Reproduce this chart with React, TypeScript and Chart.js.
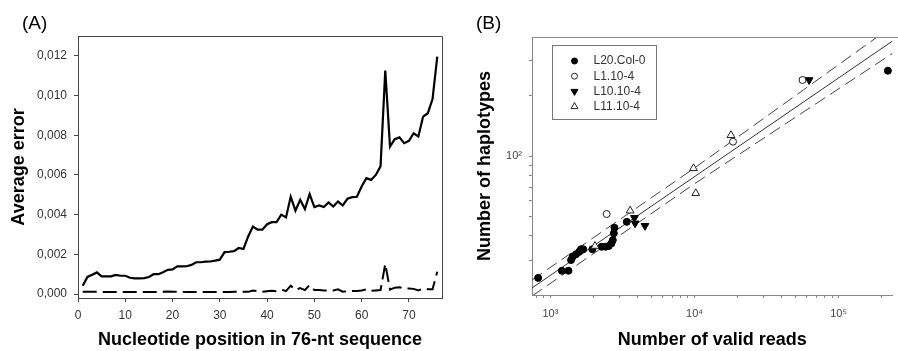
import React, { useEffect, useRef } from 'react';
import { Chart, registerables } from 'chart.js';

Chart.register(...registerables);

const FONT = "'Liberation Sans', Arial, Helvetica, sans-serif";

// ---------- Panel A data ----------
const nucleotidePositions = Array.from({ length: 76 }, (_, i) => i + 1);

const averageErrorSolid = [
  0.00042, 0.00086, 0.00097, 0.00109, 0.00089, 0.00089, 0.00089, 0.00096, 0.00092, 0.00092,
  0.00082, 0.00079, 0.00079, 0.0008, 0.00086, 0.001, 0.001, 0.0011, 0.00122, 0.00124,
  0.00139, 0.00139, 0.0014, 0.00147, 0.0016, 0.0016, 0.00163, 0.00164, 0.00168, 0.00173,
  0.00211, 0.00213, 0.00216, 0.00232, 0.00227, 0.0029, 0.0034, 0.00324, 0.00324, 0.00352,
  0.00362, 0.00362, 0.004, 0.00386, 0.0049, 0.0042, 0.00475, 0.00428, 0.00503, 0.00438,
  0.00446, 0.00438, 0.00461, 0.00441, 0.00466, 0.00446, 0.0048, 0.00488, 0.0049, 0.00542,
  0.00584, 0.00575, 0.006, 0.00643, 0.01126, 0.00743, 0.0078, 0.00789, 0.0076, 0.00772,
  0.0081, 0.00794, 0.00894, 0.00911, 0.00982, 0.01196,
];

const averageErrorDashed = [
  0.00012, 0.00012, 0.00012, 0.00012, 0.0001, 0.0001, 0.0001, 0.0001, 0.0001, 0.0001,
  0.0001, 0.0001, 0.0001, 0.0001, 0.0001, 0.0001, 0.0001, 0.00011, 0.00013, 0.00012,
  0.00011, 0.00011, 0.0001, 0.0001, 0.0001, 0.0001, 0.0001, 0.0001, 0.0001, 0.0001,
  0.0001, 0.0001, 0.00011, 0.00011, 0.00012, 0.00011, 0.00018, 0.00015, 0.00012, 0.00014,
  0.00016, 0.00014, 0.00022, 0.00015, 0.00042, 0.0002, 0.0003, 0.0002, 0.00045, 0.0002,
  0.0002, 0.00018, 0.00018, 0.00018, 0.00024, 0.00012, 0.00014, 0.00015, 0.00015, 0.00018,
  0.00024, 0.00016, 0.00018, 0.0002, 0.00152, 0.00022, 0.00032, 0.00034, 0.00028, 0.00028,
  0.00026, 0.00018, 0.00028, 0.00024, 0.00024, 0.00112,
];

const xTicksA = [0, 10, 20, 30, 40, 50, 60, 70];
const yTicksA = [0, 0.002, 0.004, 0.006, 0.008, 0.01, 0.012];

// ---------- Panel B data ----------
const seriesLabels = ['L20.Col-0', 'L1.10-4', 'L10.10-4', 'L11.10-4'];

const col0Reads = [822, 1200, 1334, 1391, 1428, 1506, 1585, 1629, 1690, 1955, 2265, 2415, 2541, 2653, 2710, 2754, 2781, 3389, 219800];
const col0Haplotypes = [24.6, 26.7, 26.7, 30.2, 31.4, 32.3, 33.2, 34.2, 34.2, 34.2, 35.2, 35.2, 35.5, 36.6, 38, 41.1, 43.8, 46.9, 267];

const l1Reads = [2455, 18500, 56200];
const l1Haplotypes = [51.3, 118, 240];

const l10Reads = [3830, 3870, 4530, 62400];
const l10Haplotypes = [49.1, 46.1, 44.8, 240];

const l11Reads = [2040, 3574, 9840, 10200, 17900];
const l11Haplotypes = [35.5, 53.3, 86.8, 65.1, 127];

const fitReads = [745, 236600];
const fitHaplotypes = [21.9, 375.8];
const bandReads = [745, 10000, 236600];
const upperBandHaplotypes = [24.0, 87.1, 446.7];
const lowerBandHaplotypes = [19.95, 72.7, 326.2];

const xTicksB = [
  800, 900, 1000, 2000, 3000, 4000, 5000, 6000, 7000, 8000, 9000,
  10000, 20000, 30000, 40000, 50000, 60000, 70000, 80000, 90000, 100000, 200000,
];
const xTickLabelsB: Record<number, string> = { 1000: '10³', 10000: '10⁴', 100000: '10⁵' };
const yTicksB = [30, 40, 50, 60, 70, 80, 90, 100, 200, 300];
const yTickLabelsB: Record<number, string> = { 100: '10²' };

const zip = (xs: number[], ys: number[]) => xs.map((x, i) => ({ x, y: ys[i] }));

function drawMarker(ctx: CanvasRenderingContext2D, style: string, x: number, y: number, r: number, rotation: number, fill: string, stroke: string) {
  ctx.save();
  ctx.beginPath();
  if (style === 'circle') {
    ctx.arc(x, y, r, 0, Math.PI * 2);
  } else {
    const rot = (rotation * Math.PI) / 180;
    for (let k = 0; k < 3; k++) {
      const a = rot + (k * 2 * Math.PI) / 3;
      const px = x + Math.sin(a) * r;
      const py = y - Math.cos(a) * r;
      if (k === 0) ctx.moveTo(px, py);
      else ctx.lineTo(px, py);
    }
    ctx.closePath();
  }
  ctx.fillStyle = fill;
  ctx.fill();
  ctx.strokeStyle = stroke;
  ctx.lineWidth = 1;
  ctx.stroke();
  ctx.restore();
}

const frameAPlugin = {
  id: 'frameA',
  afterDraw(chart: any) {
    const { ctx, chartArea } = chart;
    const l = Math.round(chartArea.left) + 0.5;
    const r = Math.round(chartArea.right) + 0.5;
    const t = Math.round(chartArea.top) + 0.5;
    const b = Math.round(chartArea.bottom) + 0.5;
    ctx.save();
    ctx.strokeStyle = '#444';
    ctx.lineWidth = 1;
    ctx.beginPath();
    ctx.moveTo(l, t);
    ctx.lineTo(r, t);
    ctx.lineTo(r, b);
    ctx.stroke();
    ctx.restore();
  },
};

const frameBPlugin = {
  id: 'frameB',
  afterDraw(chart: any) {
    const { ctx, chartArea } = chart;
    const t = Math.round(chartArea.top) + 0.5;
    ctx.save();
    ctx.strokeStyle = '#888';
    ctx.lineWidth = 1;
    ctx.beginPath();
    ctx.moveTo(chartArea.left, t);
    ctx.lineTo(chart.width, t);
    ctx.stroke();
    ctx.restore();
  },
};

const legendBPlugin = {
  id: 'legendB',
  afterDraw(chart: any) {
    const { ctx, chartArea } = chart;
    const bx = Math.round(chartArea.left + 20) + 0.5;
    const by = Math.round(chartArea.top + 8) + 0.5;
    const bw = 104;
    const bh = 74;
    ctx.save();
    ctx.fillStyle = '#fff';
    ctx.fillRect(bx, by, bw, bh);
    ctx.strokeStyle = '#777';
    ctx.lineWidth = 1;
    ctx.strokeRect(bx, by, bw, bh);
    const entries = chart.data.datasets.filter((d: any) => d.inLegend);
    entries.forEach((d: any, i: number) => {
      const y = by + 15.5 + i * 15.2;
      drawMarker(ctx, d.pointStyle, bx + 22, y, d.pointStyle === 'circle' ? 3 : 4, d.pointRotation || 0, d.backgroundColor, d.borderColor);
      ctx.fillStyle = '#333';
      ctx.font = `12px ${FONT}`;
      ctx.textBaseline = 'middle';
      ctx.textAlign = 'left';
      ctx.fillText(d.label, bx + 41, y);
    });
    ctx.restore();
  },
};

export default function App() {
  const refA = useRef<HTMLCanvasElement>(null);
  const refB = useRef<HTMLCanvasElement>(null);

  useEffect(() => {
    Chart.defaults.font.family = FONT;
    const tickFontA = { size: 12, family: FONT };
    const titleFont = { size: 18, weight: 'bold' as const, family: FONT };

    const chartA = new Chart(refA.current!, {
      type: 'line',
      data: {
        datasets: [
          {
            label: 'solid',
            data: zip(nucleotidePositions, averageErrorSolid),
            borderColor: '#000',
            borderWidth: 2.2,
            pointRadius: 0,
            tension: 0,
            fill: false,
          },
          {
            label: 'dashed',
            data: zip(nucleotidePositions, averageErrorDashed),
            borderColor: '#000',
            borderWidth: 2,
            borderDash: [14, 6],
            pointRadius: 0,
            tension: 0,
            fill: false,
          },
        ],
      },
      options: {
        animation: false,
        responsive: false,
        maintainAspectRatio: false,
        layout: { padding: { top: 36, right: 8, left: 0, bottom: 0 } },
        plugins: { legend: { display: false }, tooltip: { enabled: false } },
        scales: {
          x: {
            type: 'linear',
            min: 0,
            max: 77,
            afterBuildTicks: (s: any) => {
              s.ticks = xTicksA.map((v) => ({ value: v }));
            },
            afterFit: (s: any) => {
              s.height = 53;
            },
            ticks: { autoSkip: false, maxRotation: 0, padding: 6, color: '#333', font: tickFontA, callback: (v: any) => String(v) },
            grid: { drawOnChartArea: false, drawTicks: true, tickLength: 4, color: '#444' },
            border: { display: true, color: '#444', width: 1 },
            title: { display: true, text: 'Nucleotide position in 76-nt sequence', color: '#000', font: titleFont, padding: { top: 0, bottom: 0 } },
          },
          y: {
            type: 'linear',
            min: -0.0002,
            max: 0.013,
            afterBuildTicks: (s: any) => {
              s.ticks = yTicksA.map((v) => ({ value: v }));
            },
            afterFit: (s: any) => {
              s.width = 78;
            },
            ticks: { autoSkip: false, padding: 7, color: '#333', font: tickFontA, callback: (v: any) => Number(v).toFixed(3).replace('.', ',') },
            grid: { drawOnChartArea: false, drawTicks: true, tickLength: 4, color: '#444' },
            border: { display: true, color: '#444', width: 1 },
            title: { display: true, text: 'Average error', color: '#000', font: titleFont, padding: { top: 8, bottom: 0 } },
          },
        },
      } as any,
      plugins: [frameAPlugin],
    });

    const lineCommon = { showLine: true, pointRadius: 0, borderWidth: 1, fill: false, tension: 0, order: 10 };

    const chartB = new Chart(refB.current!, {
      type: 'scatter',
      data: {
        datasets: [
          { label: 'fit', data: zip(fitReads, fitHaplotypes), borderColor: '#333', ...lineCommon },
          { label: 'upper', data: zip(bandReads, upperBandHaplotypes), borderColor: '#444', borderDash: [12, 6], ...lineCommon },
          { label: 'lower', data: zip(bandReads, lowerBandHaplotypes), borderColor: '#444', borderDash: [12, 6], ...lineCommon },
          {
            label: seriesLabels[0],
            inLegend: true,
            data: zip(col0Reads, col0Haplotypes),
            pointStyle: 'circle',
            pointRadius: 3.5,
            backgroundColor: '#000',
            borderColor: '#000',
            borderWidth: 1,
            order: 3,
          },
          {
            label: seriesLabels[1],
            inLegend: true,
            data: zip(l1Reads, l1Haplotypes),
            pointStyle: 'circle',
            pointRadius: 3.5,
            backgroundColor: '#fff',
            borderColor: '#222',
            borderWidth: 1,
            order: 2,
          },
          {
            label: seriesLabels[2],
            inLegend: true,
            data: zip(l10Reads, l10Haplotypes),
            pointStyle: 'triangle',
            pointRotation: 180,
            pointRadius: 4.5,
            backgroundColor: '#000',
            borderColor: '#000',
            borderWidth: 1,
            order: 1,
          },
          {
            label: seriesLabels[3],
            inLegend: true,
            data: zip(l11Reads, l11Haplotypes),
            pointStyle: 'triangle',
            pointRadius: 4.5,
            backgroundColor: '#fff',
            borderColor: '#222',
            borderWidth: 1,
            order: 0,
          },
        ],
      } as any,
      options: {
        animation: false,
        responsive: false,
        maintainAspectRatio: false,
        layout: { padding: { top: 37, right: 0, left: 0, bottom: 0 } },
        plugins: { legend: { display: false }, tooltip: { enabled: false } },
        scales: {
          x: {
            type: 'logarithmic',
            min: 745,
            max: 236600,
            afterBuildTicks: (s: any) => {
              s.ticks = xTicksB.map((v) => ({ value: v }));
            },
            afterFit: (s: any) => {
              s.height = 56;
            },
            ticks: { autoSkip: false, maxRotation: 0, padding: 9, color: '#444', font: { size: 11, family: FONT }, callback: (v: any) => xTickLabelsB[Number(v)] || '' },
            grid: { drawOnChartArea: false, drawTicks: true, tickLength: 3, color: '#888' },
            border: { display: true, color: '#888', width: 1 },
            title: { display: true, text: 'Number of valid reads', color: '#000', font: titleFont, padding: { top: 0, bottom: 0 } },
          },
          y: {
            type: 'logarithmic',
            min: 20.2,
            max: 393.6,
            afterBuildTicks: (s: any) => {
              s.ticks = yTicksB.map((v) => ({ value: v }));
            },
            afterFit: (s: any) => {
              s.width = 82;
            },
            ticks: { autoSkip: false, padding: 7, color: '#444', font: { size: 11, family: FONT }, callback: (v: any) => yTickLabelsB[Number(v)] || '' },
            grid: { drawOnChartArea: false, drawTicks: true, tickLength: 3, color: '#888' },
            border: { display: true, color: '#888', width: 1 },
            title: { display: true, text: 'Number of haplotypes', color: '#000', font: titleFont, padding: { top: 24, bottom: 0 } },
          },
        },
      } as any,
      plugins: [frameBPlugin, legendBPlugin],
    });

    return () => {
      chartA.destroy();
      chartB.destroy();
    };
  }, []);

  const panelLabel: React.CSSProperties = {
    position: 'absolute',
    top: 13,
    fontFamily: FONT,
    fontSize: 19,
    lineHeight: '19px',
    color: '#000',
  };

  return (
    <div style={{ position: 'fixed', left: 0, top: 0, width: 898, height: 351, background: '#fff', overflow: 'hidden' }}>
      <canvas ref={refA} width={450} height={351} style={{ position: 'absolute', left: 0, top: 0, width: 450, height: 351 }} />
      <canvas ref={refB} width={448} height={351} style={{ position: 'absolute', left: 450, top: 0, width: 448, height: 351 }} />
      <div style={{ ...panelLabel, left: 22 }}>(A)</div>
      <div style={{ ...panelLabel, left: 476 }}>(B)</div>
    </div>
  );
}
